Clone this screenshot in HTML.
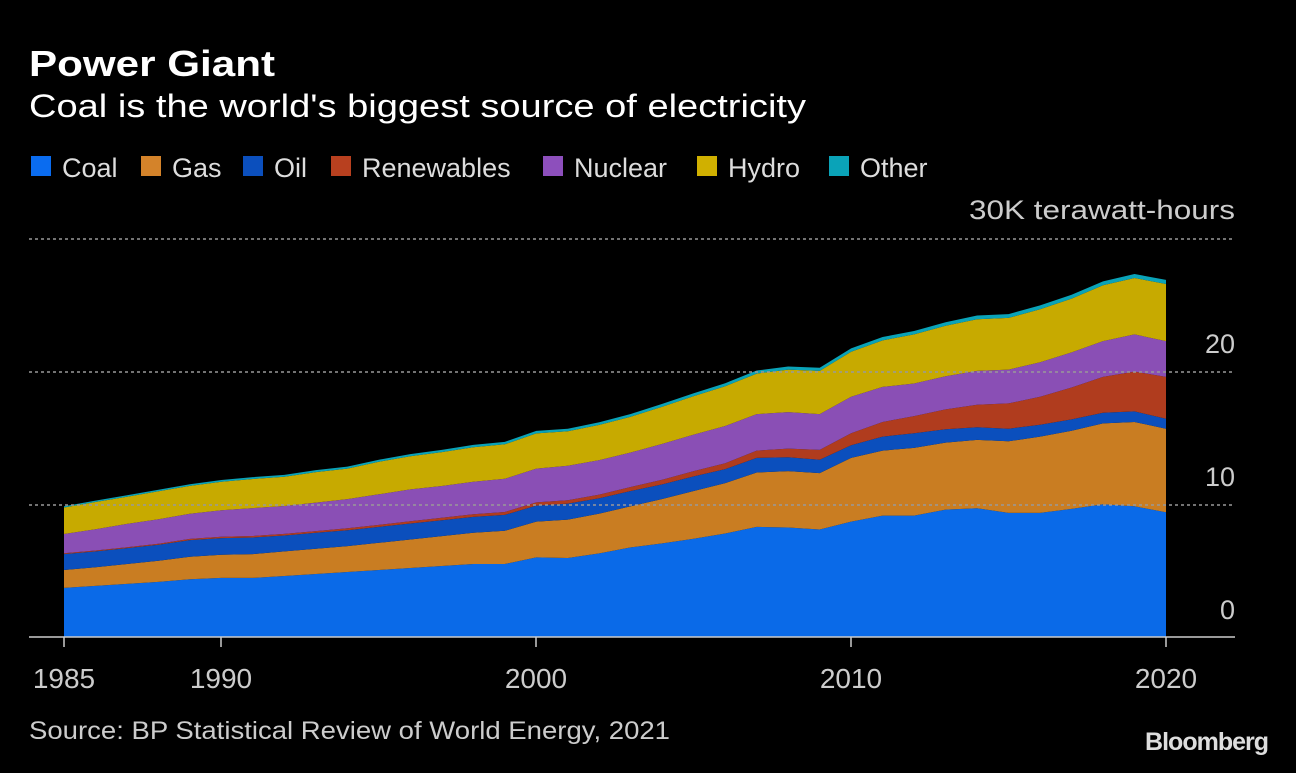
<!DOCTYPE html>
<html><head><meta charset="utf-8"><style>
body{margin:0;background:#000;width:1296px;height:768px;overflow:hidden;font-family:"Liberation Sans",sans-serif}
</style></head><body>
<svg id="s" width="1296" height="768" xmlns="http://www.w3.org/2000/svg" font-family="Liberation Sans, sans-serif">
<text x="29" y="76" fill="#fff" font-size="36" font-weight="bold" textLength="246" lengthAdjust="spacingAndGlyphs">Power Giant</text>
<text x="29" y="117" fill="#fff" font-size="32" textLength="777" lengthAdjust="spacingAndGlyphs">Coal is the world's biggest source of electricity</text>
<g font-size="27" fill="#ddd">
<rect x="31" y="156" width="20" height="20" fill="#0a6cf0"/><text x="62" y="177">Coal</text>
<rect x="141" y="156" width="20" height="20" fill="#d4832a"/><text x="172" y="177">Gas</text>
<rect x="243" y="156" width="20" height="20" fill="#0b4fbd"/><text x="274" y="177">Oil</text>
<rect x="331" y="156" width="20" height="20" fill="#b8401f"/><text x="362" y="177">Renewables</text>
<rect x="543" y="156" width="20" height="20" fill="#8d4fbc"/><text x="574" y="177">Nuclear</text>
<rect x="697" y="156" width="20" height="20" fill="#d0b000"/><text x="728" y="177">Hydro</text>
<rect x="829" y="156" width="20" height="20" fill="#0aa3b8"/><text x="860" y="177">Other</text>
</g>
<g id="areas"></g>
<g stroke="#999" stroke-dasharray="3,3" stroke-width="1.5">
<line x1="29" x2="1235" y1="239" y2="239"/><line x1="29" x2="1235" y1="372" y2="372"/><line x1="29" x2="1235" y1="505" y2="505"/>
</g>
<line x1="29" x2="1235" y1="637" y2="637" stroke="#ccc" stroke-width="1.5"/>
<g font-size="27" fill="#ccc" text-anchor="end">
<text x="1235" y="219" textLength="266" lengthAdjust="spacingAndGlyphs">30K terawatt-hours</text>
<text x="1235" y="353">20</text><text x="1235" y="486">10</text><text x="1235" y="619">0</text>
</g>
<g stroke="#ccc" stroke-width="1.5"><line x1="64" x2="64" y1="637" y2="647"/><line x1="221" x2="221" y1="637" y2="647"/><line x1="536" x2="536" y1="637" y2="647"/><line x1="851" x2="851" y1="637" y2="647"/><line x1="1166" x2="1166" y1="637" y2="647"/></g>
<g font-size="28" fill="#ccc" text-anchor="middle">
<text x="64" y="688">1985</text><text x="221" y="688">1990</text><text x="536" y="688">2000</text><text x="851" y="688">2010</text><text x="1166" y="688">2020</text>
</g>
<text x="29" y="739" font-size="25" fill="#ccc" textLength="641" lengthAdjust="spacingAndGlyphs">Source: BP Statistical Review of World Energy, 2021</text>
<text x="1268" y="750" font-size="25" fill="#ddd" font-weight="bold" text-anchor="end" letter-spacing="-1">Bloomberg</text>
</svg>
<script>
var d={
coal:[3.7,3.85,4.0,4.15,4.35,4.45,4.45,4.6,4.75,4.9,5.05,5.2,5.35,5.5,5.5,6.0,5.95,6.3,6.75,7.05,7.4,7.8,8.3,8.25,8.1,8.7,9.15,9.15,9.6,9.7,9.35,9.35,9.65,10.0,9.85,9.4],
gas:[1.35,1.4,1.5,1.6,1.7,1.75,1.8,1.85,1.9,1.95,2.05,2.15,2.25,2.35,2.5,2.7,2.9,3.0,3.1,3.35,3.6,3.8,4.1,4.25,4.25,4.8,4.9,5.1,5.05,5.15,5.4,5.75,5.9,6.1,6.35,6.3],
oil:[1.2,1.2,1.2,1.2,1.25,1.25,1.25,1.2,1.2,1.2,1.2,1.2,1.2,1.2,1.2,1.2,1.2,1.15,1.15,1.1,1.1,1.05,1.1,1.05,1.0,0.95,1.05,1.1,1.0,0.95,0.95,0.9,0.85,0.8,0.8,0.75],
ren:[.06,.07,.07,.08,.09,.1,.11,.12,.13,.14,.15,.17,.18,.2,.22,.24,.25,.28,.3,.35,.4,.45,.55,.65,.75,.9,1.1,1.3,1.5,1.7,1.9,2.1,2.4,2.7,3.0,3.15],
nuc:[1.45,1.6,1.75,1.85,1.9,2.0,2.1,2.1,2.15,2.2,2.3,2.4,2.4,2.45,2.5,2.55,2.6,2.6,2.6,2.7,2.75,2.8,2.75,2.75,2.7,2.75,2.65,2.45,2.5,2.55,2.55,2.6,2.65,2.7,2.8,2.7],
hyd:[2.0,2.05,2.05,2.1,2.1,2.15,2.2,2.2,2.3,2.3,2.45,2.5,2.55,2.6,2.6,2.65,2.6,2.65,2.7,2.8,2.9,3.0,3.05,3.2,3.25,3.4,3.5,3.7,3.8,3.9,3.9,4.0,4.05,4.2,4.25,4.3]
};
var oth=[];for(var i=0;i<36;i++)oth.push(0.1+i*0.006);
var ser=[[d.coal,"#0a6ae8"],[d.gas,"#c97d22"],[d.oil,"#0b4fbd"],[d.ren,"#b03c1e"],[d.nuc,"#8a4fb5"],[d.hyd,"#c7aa00"],[oth,"#0aa3b8"]];
var base=new Array(36).fill(0),g=document.getElementById("areas"),out="";
function X(i){return 64+i*31.486}function Y(v){return 637-v*13.27}
ser.forEach(function(s){var top=base.map(function(b,i){return b+s[0][i]});var p=[];
for(var i=0;i<36;i++)p.push(X(i).toFixed(1)+","+Y(top[i]).toFixed(1));
for(var i=35;i>=0;i--)p.push(X(i).toFixed(1)+","+Y(base[i]).toFixed(1));
out+='<polygon points="'+p.join(" ")+'" fill="'+s[1]+'"/>';base=top;});
g.innerHTML=out;
</script>
</body></html>
